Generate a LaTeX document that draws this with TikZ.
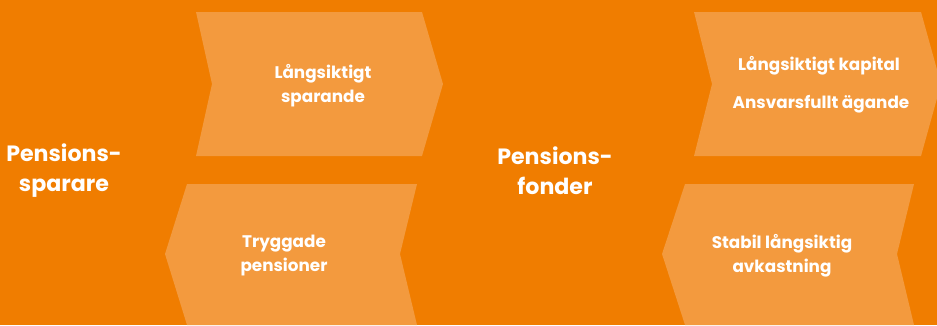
\documentclass[tikz,border=0pt]{standalone}
\usepackage{fontspec}
\setmainfont{Poppins}
\definecolor{bgorange}{HTML}{F07D00}
\definecolor{chevorange}{HTML}{F39A3E}

\begin{document}
\begin{tikzpicture}[x=0.75pt,y=0.75pt,yscale=-1,xscale=1,
  chev/.style={fill=chevorange,draw=none},
  lbl/.style={inner sep=0.75pt,text=white,font=\bfseries\fontsize{12.6}{18}\selectfont,align=center},
  big/.style={inner sep=0.75pt,text=white,font=\bfseries\fontsize{16.6}{22.5}\selectfont,align=center}]
\clip (0,0) rectangle (937,325);
\fill[bgorange] (0,0) rectangle (937,325);

%Shape: Chevron right [sparande]
\fill[chev] (196,12) -- (422,12) -- (443,84) -- (422,156) -- (196,156) -- (212,84) -- cycle ;
%Shape: Chevron left [pensioner]
\fill[chev] (187,184) -- (417,184) -- (400,254) -- (417,325) -- (187,325) -- (165,254) -- cycle ;
%Shape: Chevron right [kapital]
\fill[chev] (694,12) -- (921,12) -- (941,84) -- (921,156) -- (694,156) -- (712,84) -- cycle ;
%Shape: Chevron left [avkastning]
\fill[chev] (685,184) -- (914,184) -- (897,254) -- (914,325) -- (685,325) -- (662,254) -- cycle ;

% Text Node
\node[big] (sparare) at (64,171) {Pensions-\\sparare};
% Text Node
\node[big] (fonder) at (555,171) {Pensions-\\fonder};
% Text Node
\node[lbl] (sparande) at (323,86) {Långsiktigt\\sparande};
% Text Node
\node[lbl] (pensioner) at (284,256) {Tryggade\\pensioner};
% Text Node
\node[lbl] (kapital) at (819,66) {Långsiktigt kapital};
% Text Node
\node[lbl] (agande) at (821,104) {Ansvarsfullt ägande};
% Text Node
\node[lbl] (avkastning) at (782,256) {Stabil långsiktig\\avkastning};

\end{tikzpicture}
\end{document}
